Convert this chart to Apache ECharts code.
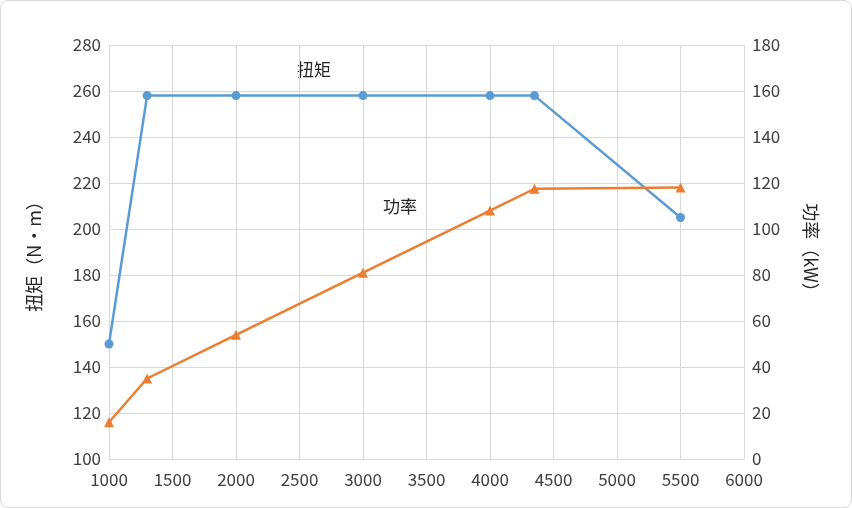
<!DOCTYPE html><html><head><meta charset="utf-8"><script src="https://cdn.jsdelivr.net/npm/echarts@6/dist/echarts.min.js"></script>
<style>html,body{margin:0;background:#fff}#c{width:852px;height:508px;box-sizing:border-box;border:1px solid #d9d9d9;border-radius:8px}</style></head><body><div id="c"></div><script>
const rpm=[1000,1300,2000,3000,4000,4350,5500];
const torque=[150,258,258,258,258,258,205];
const power=[16,35,54,81,108,117.5,118];
const xTicks={min:1000,max:6000,step:500};
const c=echarts.init(document.getElementById('c'));
const F='"Noto Sans CJK SC",sans-serif';
const ax={axisLine:{show:false},axisTick:{show:false},axisLabel:{color:'#404040',fontSize:17,fontFamily:F,formatter:v=>String(v)},splitLine:{lineStyle:{color:'#d9d9d9'}},nameLocation:'middle',nameTextStyle:{color:'#262626',fontSize:18,fontFamily:F}};
c.setOption({animation:false,grid:{left:108,right:107,top:44,bottom:48},
xAxis:{type:'value',min:xTicks.min,max:xTicks.max,interval:xTicks.step,...ax,axisLine:{show:true,lineStyle:{color:'#d9d9d9'}},axisLabel:{...ax.axisLabel,margin:12}},
yAxis:[{type:'value',min:100,max:280,interval:20,...ax,name:'扭矩（N·m）',nameGap:66,nameRotate:90},
{type:'value',min:0,max:180,interval:20,...ax,name:'功率（kW）',nameGap:58,nameRotate:-90,splitLine:{show:false}}],
graphic:[{type:'text',left:296,top:60,style:{text:'扭矩',fontSize:17,fontFamily:F,fill:'#262626'}},
{type:'text',left:382,top:197,style:{text:'功率',fontSize:17,fontFamily:F,fill:'#262626'}}],
series:[{type:'line',yAxisIndex:0,data:rpm.map((x,i)=>[x,torque[i]]),symbol:'circle',symbolSize:9,lineStyle:{color:'#5b9bd5',width:2.5},itemStyle:{color:'#5b9bd5'}},
{type:'line',yAxisIndex:1,data:rpm.map((x,i)=>[x,power[i]]),symbol:'triangle',symbolSize:10,lineStyle:{color:'#ed7d31',width:2.5},itemStyle:{color:'#ed7d31'}}]});
</script></body></html>
